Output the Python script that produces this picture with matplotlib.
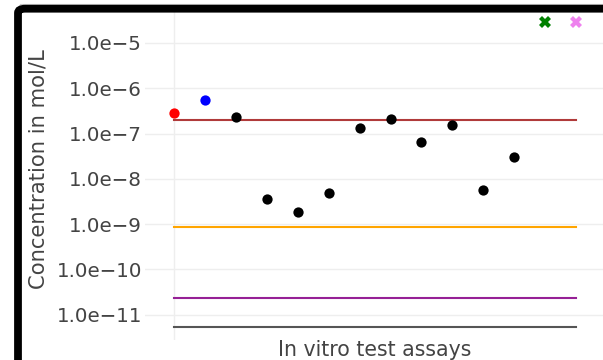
import matplotlib
matplotlib.use("Agg")
import matplotlib.pyplot as plt
from matplotlib.patches import FancyBboxPatch
from matplotlib.lines import Line2D
import numpy as np

# Reference compounds
ref_red_x, ref_red_y = [0], [2.84e-7]
ref_blue_x, ref_blue_y = [1], [5.4e-7]

# In vitro assay results (mol/L)
assay_x = [2, 3, 4, 5, 6, 7, 8, 9, 10, 11]
assay_y = [2.35e-7, 3.5e-9, 1.84e-9, 4.84e-9, 1.32e-7, 2.09e-7, 6.6e-8, 1.52e-7, 5.56e-9, 3.03e-8]

# Assays without a measured value
na_green_x, na_green_y = [12], [2.9e-5]
na_pink_x, na_pink_y = [13], [2.9e-5]

# Horizontal reference levels spanning the assay range
line_x = [0, 13]
level_darkred = 2.0e-7
level_orange = 8.5e-10
level_purple = 2.3e-11
level_gray = 5.2e-12

yticks = [1e-5, 1e-6, 1e-7, 1e-8, 1e-9, 1e-10, 1e-11]
ytick_labels = ["1.0e\u22125", "1.0e\u22126", "1.0e\u22127", "1.0e\u22128",
                "1.0e\u22129", "1.0e\u221210", "1.0e\u221211"]

W, H = 603, 360
fig = plt.figure(figsize=(W / 100, H / 100), dpi=100)
fig.patch.set_facecolor("white")

ax = fig.add_axes([145 / W, 1 - 340 / H, 1 - 145 / W, (340 - 12) / H])
ax.set_yscale("log")
ax.set_xlim(-0.938, 13.87)
ax.set_ylim(10 ** -11.563, 10 ** -4.315)

for s in ax.spines.values():
    s.set_visible(False)

ax.set_yticks(yticks)
ax.set_yticklabels(ytick_labels)
ax.yaxis.set_minor_locator(matplotlib.ticker.NullLocator())
ax.set_xticks([])
ax.tick_params(axis="y", length=0, pad=2, labelsize=14.3, labelcolor="#444444")
ax.grid(axis="y", color="#eeeeee", linewidth=1)
ax.axvline(0, color="#eeeeee", linewidth=1, zorder=0)
ax.set_axisbelow(True)

lw = 1.5
ax.plot(line_x, [level_darkred] * 2, color="#b03a3a", lw=lw, zorder=2)
ax.plot(line_x, [level_orange] * 2, color="#ffa500", lw=lw, zorder=2)
ax.plot(line_x, [level_purple] * 2, color="#962096", lw=lw, zorder=2)
ax.plot(line_x, [level_gray] * 2, color="#555555", lw=lw, zorder=2)

ms = 7.4
ax.plot(ref_red_x, ref_red_y, "o", color="red", ms=ms, mew=0, clip_on=False, zorder=3)
ax.plot(ref_blue_x, ref_blue_y, "o", color="blue", ms=ms, mew=0, clip_on=False, zorder=3)
ax.plot(assay_x, assay_y, "o", color="black", ms=ms, mew=0, clip_on=False, zorder=3)
ax.plot(na_green_x, na_green_y, "X", color="green", ms=9, mew=0, clip_on=False, zorder=3)
ax.plot(na_pink_x, na_pink_y, "X", color="violet", ms=9, mew=0, clip_on=False, zorder=3)

ax.set_xlabel("In vitro test assays", fontsize=14.8, color="#444444", labelpad=0)
ax.xaxis.set_label_coords((375 - 145) / (W - 145), -(350 - 340) / (340 - 12), transform=ax.transAxes)
ax.xaxis.label.set_verticalalignment("center")

fig.text(39 / W, 1 - 169 / H, "Concentration in mol/L", rotation=90,
         fontsize=15.2, color="#444444", ha="center", va="center")

# Page frame
fig.add_artist(Line2D([20 / W, 1], [1 - 4 / H, 1 - 4 / H], color="#c8c8c8",
                      lw=0.8, transform=fig.transFigure))
frame = FancyBboxPatch((18 / W, -0.2), 1.2, 1 - 8.7 / H + 0.2,
                       boxstyle="round,pad=0,rounding_size=0.012",
                       transform=fig.transFigure, facecolor="none",
                       edgecolor="black", linewidth=5.6, zorder=10)
fig.add_artist(frame)

fig.savefig("out.png", dpi=100)
